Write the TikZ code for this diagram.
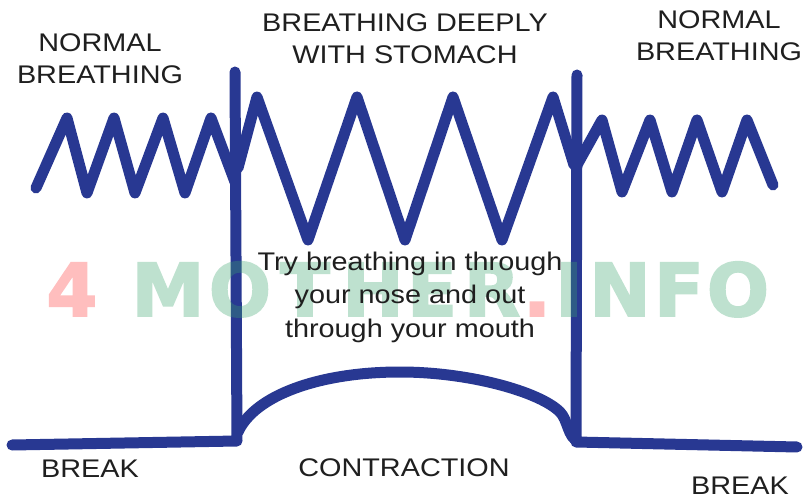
\documentclass[tikz,border=0pt]{standalone}
\usepackage{fontspec}
\setmainfont{Liberation Sans}
\newfontfamily\headfont[FakeStretch=1.13]{Liberation Sans}
\newfontfamily\markfont[FakeBold=2.5]{DejaVu Sans}
\definecolor{waveblue}{RGB}{40,56,146}
\definecolor{wmred}{RGB}{255,60,60}
\definecolor{wmgreen}{RGB}{60,165,110}

\begin{document}
\begin{tikzpicture}[
    x=1pt, y=-1pt,
    wave/.style={draw=waveblue, line width=11pt, line cap=round, line join=round},
    headtext/.style={align=center, inner sep=0pt, text=black!88, font=\headfont\fontsize{25.5}{32}\selectfont},
    notetext/.style={align=center, inner sep=0pt, text=black!88, font=\headfont\fontsize{25.5}{33.5}\selectfont},
    wmark/.style={anchor=base, inner sep=0pt, font=\markfont\bfseries\fontsize{73}{73}\selectfont}
]

    \fill[white] (0,0) rectangle (807,500);
    \useasboundingbox (0,0) rectangle (807,500);

    % ================= STEPS AND SPIKES =================
    \draw[wave] (12,445) -- (237,441) -- (235,72);
    \draw[wave] (577,75) -- (576,442) -- (797,447);

    % ================= BREATHING WAVES =================
    % normal breathing, left
    \draw[wave] (36,188) -- (67,118) -- (87,193) -- (114,118) -- (135,193)
        -- (163,118) -- (185,193) -- (211,118) -- (235,182);
    % deep breathing
    \draw[wave] (238,168) -- (257,97) -- (308,240) -- (357,97) -- (405,240)
        -- (453,97) -- (502,240) -- (553,97) -- (574,165);
    % normal breathing, right
    \draw[wave] (577,165) -- (602,120) -- (622,192) -- (650,120) -- (672,192)
        -- (697,120) -- (722,192) -- (747,120) -- (773,185);

    % ================= CONTRACTION HUMP =================
    \draw[wave] (238,432) .. controls (255,395) and (320,372) .. (400,372)
        .. controls (470,372) and (540,392) .. (560,412)
        .. controls (568,420) and (568,438) .. (578,441);

    % ================= WATERMARK =================
    \begin{scope}[transparency group, opacity=0.33]
    \foreach \ch/\xx/\col in {4/72/wmred, M/168/wmgreen, O/240/wmgreen, T/305/wmgreen,
        H/373/wmgreen, E/432/wmgreen, R/492/wmgreen, ./537/wmred, I/569/wmgreen,
        N/620/wmgreen, F/679/wmgreen, O/738/wmgreen}
        \node[wmark, text=\col] (wm-\xx) at (\xx,316) {\ch};
    \end{scope}

    % ================= LABELS =================
    \node[headtext] (normL) at (100,59) {NORMAL\\BREATHING};
    \node[headtext] (deep) at (405,39) {BREATHING DEEPLY\\WITH STOMACH};
    \node[headtext] (normR) at (719,36) {NORMAL\\BREATHING};
    \node[notetext] (tip) at (410,297) {Try breathing in through\\your nose and out\\through your mouth};

    \node[headtext] (breakL) at (90,469) {BREAK};
    \node[headtext] (contr) at (404,468) {CONTRACTION};
    \node[headtext] (breakR) at (740,486) {BREAK};

\end{tikzpicture}
\end{document}
